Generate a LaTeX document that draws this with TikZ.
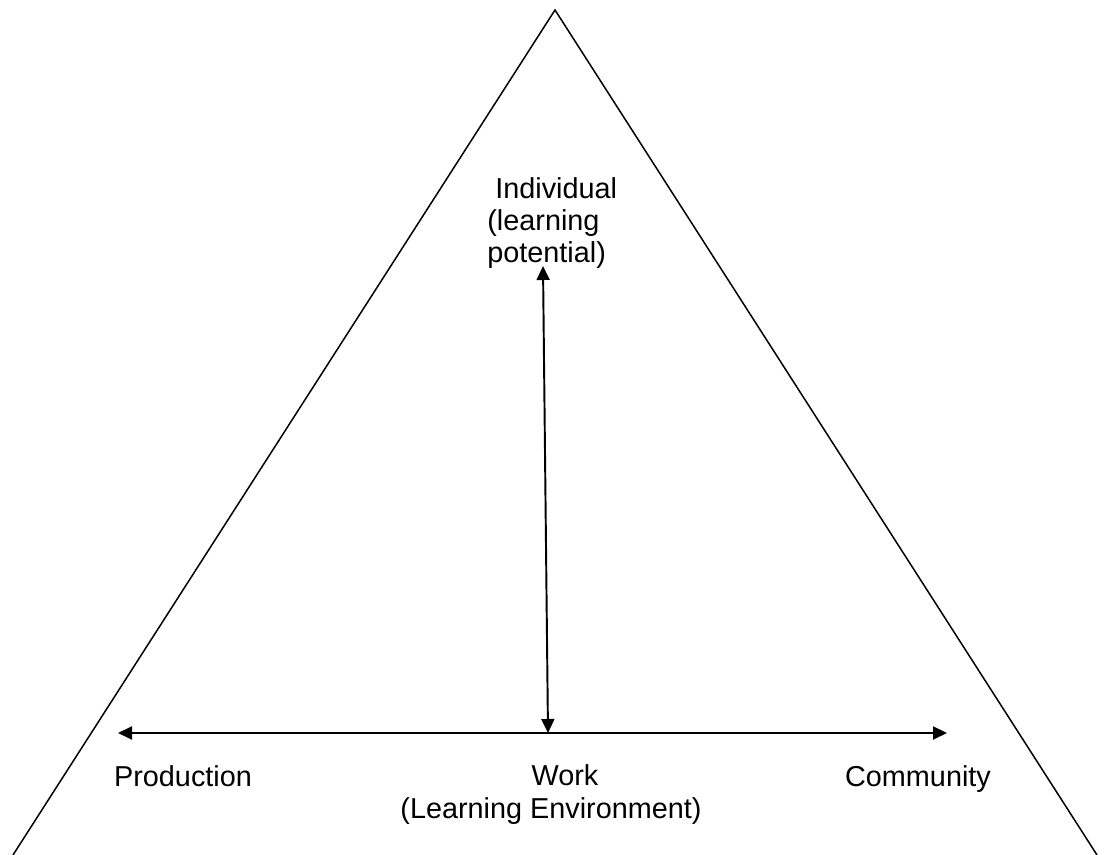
\documentclass[tikz,border=0pt]{standalone}
\usepackage{fontspec}
\setmainfont{Liberation Sans}
\usetikzlibrary{arrows.meta}

\begin{document}
\begin{tikzpicture}[>={Triangle[length=0.28cm,width=0.26cm]},
	lbl/.style={inner sep=0pt,font=\fontsize{16.4}{18.2}\selectfont}]
	\useasboundingbox (0,0) rectangle (22.18,17.1);
	
	%triangle
	\coordinate (apex) at (11.1,16.9);
	\coordinate (bl) at (0.26,0);
	\coordinate (br) at (21.94,0);
	\draw[line width=0.85pt] (bl)--(apex)--(br);
	
	%labels
	\node[lbl,anchor=north west,align=left] (indiv) at (9.74,13.56) {\ Individual\\(learning\\potential)};
	\node[lbl,anchor=base] (prod) at (3.66,1.36) {Production};
	\node[lbl,anchor=base] (comm) at (18.36,1.36) {Community};
	\node[lbl,anchor=north,align=center,font=\fontsize{16.4}{18.8}\selectfont] (work) at (11.02,1.81) {\hspace*{0.56cm}Work\\(Learning Environment)};
	
	%arrows
	\coordinate (top) at (10.86,11.78);
	\coordinate (mid) at (10.96,2.44);
	\coordinate (left) at (2.36,2.44);
	\coordinate (right) at (18.94,2.44);
	\draw[<->,line width=1.1pt] (left)--(right);
	\draw[<->,line width=1.1pt] (top)--(mid);
\end{tikzpicture}
\end{document}
